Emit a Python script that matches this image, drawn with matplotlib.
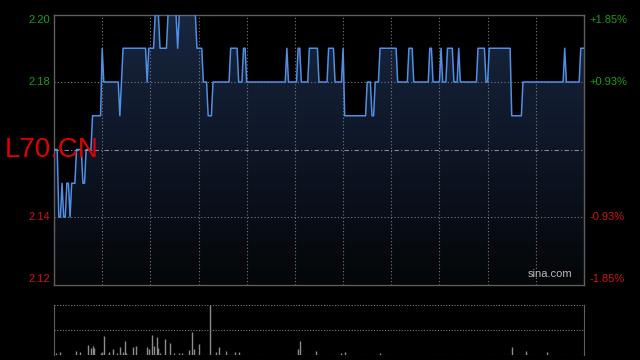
import numpy as np
import matplotlib
matplotlib.use("Agg")
import matplotlib.pyplot as plt
from matplotlib.colors import LinearSegmentedColormap

plt.rcParams['font.family'] = ['Liberation Sans', 'DejaVu Sans']

###############################################################################
# intraday price, one point per minute (run-length: level, minutes at level)
prev_close = 2.16
price_levels = [2.16, 2.14, 2.15, 2.14, 2.15, 2.14, 2.15, 2.16, 2.15, 2.16,
                2.17, 2.19, 2.18, 2.17, 2.18, 2.19, 2.18, 2.19, 2.20, 2.19,
                2.20, 2.19, 2.20, 2.19, 2.18, 2.17, 2.18, 2.19, 2.18, 2.19,
                2.18, 2.19, 2.18, 2.19, 2.18, 2.19, 2.18, 2.19, 2.18, 2.19,
                2.17, 2.18, 2.17, 2.18, 2.19, 2.18, 2.19, 2.18, 2.19, 2.18,
                2.19, 2.18, 2.19, 2.18, 2.19, 2.18, 2.19, 2.18, 2.19, 2.17,
                2.18, 2.19, 2.18, 2.19]
run_lengths = [3, 2, 1, 2, 2, 1, 3, 4, 2, 4,
               6, 1, 10, 1, 1, 15, 1, 4, 3, 5,
               6, 1, 11, 4, 3, 3, 11, 5, 3, 2,
               25, 1, 6, 2, 5, 6, 6, 4, 5, 1,
               14, 3, 2, 3, 11, 7, 3, 10, 2, 5,
               1, 3, 4, 3, 1, 11, 5, 2, 14, 7,
               26, 1, 9, 3]

# volume bars (minute index, relative size)
vol_minutes = [1, 4, 14, 16, 21, 23, 24, 25, 29, 30, 31, 34, 37, 39, 41, 43,
               44, 45, 49, 51, 58, 59, 61, 62, 64, 65, 66, 69, 72, 75, 78, 80,
               84, 86, 87, 90, 97, 101, 103, 107, 113, 115, 152, 153, 163,
               179, 181, 203, 285, 294, 307]
vol_values = [2.3, 3.3, 4, 3, 10, 6.7, 9, 7, 1.7, 3, 19, 2.7, 6, 2.3, 8, 3,
              14, 1.7, 8, 9, 8, 6, 20, 9, 18, 7, 2.3, 16, 12, 1.7, 1.7, 1.7,
              5, 23, 6, 11, 50, 3, 8, 4, 3, 3, 6, 14, 4,
              2, 3, 1.7, 8, 4, 3]

left_ticks = [2.20, 2.18, 2.14, 2.12]
right_labels = ['+1.85%', '+0.93%', '-0.93%', '-1.85%']
symbol = 'L70.CN'
###############################################################################

price = np.repeat(price_levels, run_lengths)
minutes = np.arange(len(price))
x_max = len(price) - 1
y_lo, y_hi = 2.12, 2.20

green = '#14a014'
red = '#d01010'
frame = '#5f5f5f'
gridc = '#7a7a7a'

fig = plt.figure(figsize=(6.4, 3.6), dpi=100, facecolor='black')
ax = fig.add_axes([54 / 640, 1 - 284.5 / 360, 530 / 640, 270 / 360])
ax.set_facecolor('black')

# gradient fill under the price line
cmap = LinearSegmentedColormap.from_list('fill', ['#040608', '#0e1626', '#18263f'])
grad = np.linspace(0, 1, 256).reshape(-1, 1)
poly = ax.fill_between(minutes, price, y_lo, color='none', lw=0)
im = ax.imshow(grad, extent=[0, x_max, y_lo, y_hi], origin='lower',
               aspect='auto', cmap=cmap, zorder=1)
im.set_clip_path(poly.get_paths()[0], transform=ax.transData)

# grid
for m in range(30, x_max, 30):
    ax.axvline(m, color=gridc, lw=0.8, ls=(0, (1, 2)), zorder=2)
for p in [2.18, 2.14]:
    ax.axhline(p, color=gridc, lw=0.8, ls=(0, (1, 2)), zorder=2)
ax.axhline(prev_close, color='#8a8a8a', lw=0.8, ls=(0, (4, 2, 1, 2)), zorder=2)

ax.plot(minutes, price, color='#4f8fe6', lw=1.1, zorder=3)

ax.set_xlim(0, x_max)
ax.set_ylim(y_lo, y_hi)
ax.set_xticks([])
ax.set_yticks([])
for s in ax.spines.values():
    s.set_color(frame)
    s.set_linewidth(1)

# axis labels
offsets = [-5.5, 0, 0, 5.5]
for p, lab, off in zip(left_ticks, right_labels, offsets):
    c = green if p > prev_close else red
    ax.annotate('%.2f' % p, xy=(0, p), xycoords=('axes fraction', 'data'),
                xytext=(-3, off * 0.75), textcoords='offset points',
                ha='right', va='center', color=c, fontsize=8)
    ax.annotate(lab, xy=(1, p), xycoords=('axes fraction', 'data'),
                xytext=(4, off * 0.75), textcoords='offset points',
                ha='left', va='center', color=c, fontsize=8)

fig.text(5 / 640, 1 - 150 / 360, symbol, color='#e00000', fontsize=20,
         ha='left', va='center')
ax.text(0.978, 0.022, 'sina.com', transform=ax.transAxes, color='#b8b8b8',
        fontsize=8, ha='right', va='bottom', zorder=4)

# volume panel
vax = fig.add_axes([54 / 640, 1 - 355 / 360, 530 / 640, 50.5 / 360])
vax.set_facecolor('black')
vax.vlines(vol_minutes, 0, vol_values, color='#8c8c8c', lw=1)
for v in [0, 25, 50]:
    vax.axhline(v, color=gridc, lw=0.8, ls=(0, (1, 1.5)))
vax.set_xlim(0, x_max)
vax.set_ylim(0, 50)
vax.set_xticks([])
vax.set_yticks([])
for k in ['top', 'bottom']:
    vax.spines[k].set_visible(False)
for k in ['left', 'right']:
    vax.spines[k].set_color(frame)

fig.savefig('out.png', dpi=100, facecolor='black')
